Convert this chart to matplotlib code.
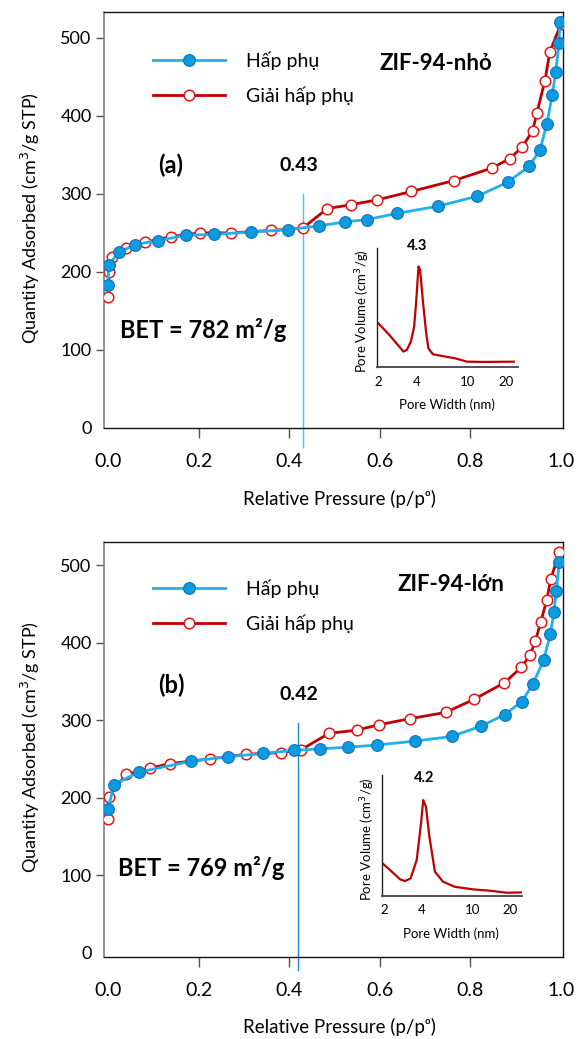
import matplotlib
matplotlib.use("Agg")
import matplotlib.pyplot as plt

plt.rcParams['font.family'] = ['Lato', 'Open Sans', 'DejaVu Sans']

# ---- panel (a): ZIF-94-nho ----
ads_p_a = [0.000, 0.001, 0.024, 0.060, 0.110, 0.172, 0.234, 0.315, 0.398, 0.466, 0.524,
           0.572, 0.639, 0.728, 0.816, 0.883, 0.930, 0.954, 0.969, 0.981, 0.989, 0.996, 0.998]
ads_q_a = [183, 209, 225, 235, 240, 247, 248, 251, 254, 259, 264,
           267, 275, 284, 297, 315, 335, 356, 389, 426, 456, 493, 520]
des_p_a = [0.000, 0.001, 0.008, 0.040, 0.082, 0.138, 0.202, 0.272, 0.360, 0.430, 0.484,
           0.536, 0.593, 0.670, 0.764, 0.848, 0.887, 0.915, 0.938, 0.947, 0.965, 0.976, 1.000]
des_q_a = [168, 200, 219, 230, 238, 245, 250, 250, 253, 256, 281,
           286, 292, 303, 317, 333, 345, 360, 381, 403, 445, 482, 517]
pore_w_a = [1.95, 2.48, 3.15, 3.35, 3.60, 3.82, 3.97, 4.13, 4.25, 4.46, 4.74, 4.93,
            5.35, 7.97, 9.86, 13.3, 22.8]
pore_v_a = [0.384, 0.264, 0.132, 0.146, 0.214, 0.34, 0.564, 0.845, 0.818, 0.564, 0.285,
            0.159, 0.109, 0.075, 0.047, 0.045, 0.047]

# ---- panel (b): ZIF-94-lon ----
ads_p_b = [0.000, 0.013, 0.068, 0.183, 0.266, 0.342, 0.411, 0.468, 0.529, 0.595, 0.679,
           0.759, 0.823, 0.876, 0.914, 0.938, 0.962, 0.977, 0.985, 0.990, 0.997]
ads_q_b = [185, 217, 233, 247, 253, 257, 261, 263, 265, 268, 273,
           279, 292, 307, 324, 346, 377, 411, 440, 466, 504]
des_p_b = [0.000, 0.001, 0.040, 0.092, 0.137, 0.225, 0.305, 0.382, 0.427, 0.488, 0.549,
           0.598, 0.668, 0.746, 0.809, 0.875, 0.913, 0.932, 0.944, 0.956, 0.969, 0.978, 0.997]
des_q_b = [173, 201, 230, 238, 244, 250, 256, 258, 262, 283, 287,
           294, 302, 310, 327, 348, 368, 384, 402, 427, 455, 482, 517]
pore_w_b = [1.93, 2.22, 2.67, 2.92, 3.24, 3.62, 3.92, 4.08, 4.29, 4.57, 5.06, 5.87,
            7.3, 10.2, 13.9, 19.0, 24.5]
pore_v_b = [0.27, 0.215, 0.138, 0.124, 0.146, 0.298, 0.6, 0.793, 0.738, 0.49, 0.2,
            0.118, 0.076, 0.055, 0.044, 0.027, 0.03]

x_ticks = [0.0, 0.2, 0.4, 0.6, 0.8, 1.0]
x_ticklabels = ["0.0", "0.2", "0.4", "0.6", "0.8", "1.0"]
y_ticks = [0, 100, 200, 300, 400, 500]
pore_ticks = [2, 4, 10, 20]

legend_labels = ["Hấp phụ", "Giải hấp phụ"]

blue_line = "#1fb0ee"
blue_face = "#0b9ce0"
blue_edge = "#1475bf"
red_line = "#c00000"
red_edge = "#e01818"


def draw_panel(fig, rect, ylim, ads_p, ads_q, des_p, des_q, split, split_span, split_color,
               tag, title, bet, inset_rect, inset_xlim, pw, pv, peak, peak_xy,
               legend_top, title_xy, tag_xy, split_xy, bet_xy):
    ax = fig.add_axes(rect)

    ax.plot(des_p, des_q, color=red_line, lw=2.0, marker="o", ms=7.6,
            mfc="white", mec=red_edge, mew=1.1, label=legend_labels[1], zorder=3)
    ax.plot(ads_p, ads_q, color=blue_line, lw=2.0, marker="o", ms=8.4,
            mfc=blue_face, mec=blue_edge, mew=0.9, label=legend_labels[0], zorder=4)

    # split line marking the hysteresis onset
    ax.plot([split, split], split_span, color=split_color, lw=1.0, clip_on=False, zorder=2)

    ax.set_xlim(-0.009, 1.005)
    ax.set_ylim(*ylim)
    ax.set_xticks(x_ticks)
    ax.set_xticklabels(x_ticklabels)
    ax.set_yticks(y_ticks)
    ax.tick_params(axis="x", direction="out", length=7, width=1.0, color="#555555",
                   labelsize=14, pad=11)
    ax.tick_params(axis="y", direction="out", length=6, width=1.0, color="#555555",
                   labelsize=13, pad=3)
    ax.xaxis.get_major_ticks()[0].tick1line.set_visible(False)
    ax.xaxis.get_major_ticks()[-1].tick1line.set_visible(False)
    ax.yaxis.get_major_ticks()[0].tick1line.set_visible(False)

    for side in ["top", "right", "bottom"]:
        ax.spines[side].set_color("#111111")
        ax.spines[side].set_linewidth(1.0)
    ax.spines["left"].set_color("#7f7f7f")
    ax.spines["left"].set_linewidth(1.2)

    ax.set_xlabel("Relative Pressure (p/pᵒ)", fontsize=13.5)
    ax.xaxis.label.set_va("center")
    ax.xaxis.set_label_coords(0.512, -0.17)
    ax.set_ylabel("Quantity Adsorbed (cm$^3$/g STP)", fontsize=13)
    ax.yaxis.label.set_va("center")
    ax.yaxis.set_label_coords(-0.161, 0.505)

    handles, labels = ax.get_legend_handles_labels()
    ax.legend(handles[::-1], labels[::-1], loc="upper left",
              bbox_to_anchor=(0.107, legend_top), frameon=False, fontsize=14,
              borderpad=0, borderaxespad=0, handlelength=3.7, handletextpad=1.1,
              labelspacing=0.85, numpoints=1)

    ax.text(title_xy[0], title_xy[1], title, transform=ax.transAxes, fontsize=16,
            fontweight="bold", ha="center", va="center")
    ax.text(tag_xy[0], tag_xy[1], tag, transform=ax.transAxes, fontsize=17,
            fontweight="bold", ha="center", va="center")
    ax.text(split_xy[0], split_xy[1], "%.2f" % split, transform=ax.transAxes, fontsize=14,
            fontweight="bold", ha="center", va="center")
    ax.text(bet_xy[0], bet_xy[1], "BET = %d m²/g" % bet, transform=ax.transAxes,
            fontsize=17, fontweight="bold", ha="center", va="center")

    # pore size distribution inset
    ins = fig.add_axes(inset_rect)
    ins.plot(pw, pv, color=red_line, lw=1.6)
    ins.set_xscale("log")
    ins.set_xlim(*inset_xlim)
    ins.set_ylim(0, 1.0)
    ins.set_xticks(pore_ticks)
    ins.set_xticklabels([str(t) for t in pore_ticks])
    ins.minorticks_off()
    ins.set_yticks([])
    ins.tick_params(axis="x", length=0, labelsize=9.5, pad=6)
    ins.spines["top"].set_visible(False)
    ins.spines["right"].set_visible(False)
    ins.spines["left"].set_color("#222222")
    ins.spines["bottom"].set_color("#444444")
    ins.spines["left"].set_linewidth(1.0)
    ins.spines["bottom"].set_linewidth(1.3)
    ins.patch.set_alpha(0)
    ins.set_xlabel("Pore Width (nm)", fontsize=9.5)
    ins.xaxis.label.set_va("center")
    ins.xaxis.set_label_coords(0.497, -0.31)
    ins.set_ylabel("Pore Volume (cm$^3$/g)", fontsize=9.5)
    ins.yaxis.label.set_va("center")
    ins.yaxis.set_label_coords(-0.10, 0.47)
    ins.text(peak_xy[0], peak_xy[1], peak, transform=ins.transAxes, fontsize=10.5,
             fontweight="bold", ha="center", va="center", clip_on=False)
    return ax


def main():
    fig = plt.figure(figsize=(5.82, 10.39), dpi=100)

    draw_panel(fig, [0.1787, 0.5881, 0.7887, 0.4004], (0, 533),
               ads_p_a, ads_q_a, des_p_a, des_q_a,
               0.43, [300, -24], "#4cc4f2",
               "(a)", "ZIF-94-nhỏ", 782,
               [0.6473, 0.6465, 0.2428, 0.1148], (1.953, 24.6),
               pore_w_a, pore_v_a, "4.3", (0.285, 1.02),
               0.905, (0.723, 0.877), (0.146, 0.632), (0.425, 0.632), (0.216, 0.236))

    draw_panel(fig, [0.1787, 0.0792, 0.7887, 0.3994], (-5, 530),
               ads_p_b, ads_q_b, des_p_b, des_q_b,
               0.42, [296, -22], "#1c8ad6",
               "(b)", "ZIF-94-lớn", 769,
               [0.6558, 0.1376, 0.2405, 0.1165], (1.905, 24.8),
               pore_w_b, pore_v_b, "4.2", (0.304, 0.973),
               0.909, (0.756, 0.896), (0.146, 0.655), (0.425, 0.633), (0.211, 0.213))

    fig.savefig("out.png", dpi=100)


if __name__ == "__main__":
    main()
